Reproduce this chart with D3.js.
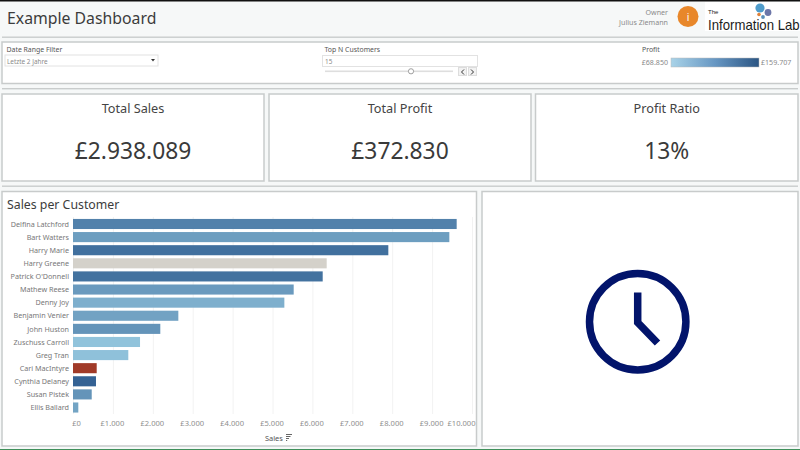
<!DOCTYPE html>
<html lang="en">
<head>
<meta charset="utf-8">
<script src="https://d3js.org/d3.v7.min.js" charset="utf-8"></script>
<style type="text/css">
    html, body { margin: 0; padding: 0; background: #f6f8f8; overflow: hidden; }
    text { font-family: "Noto Sans", "Open Sans", sans-serif; }
    .axis text { fill: #8f8f8f; font-size: 7.6px; }
    .axis path { display: none; }
    .axis line { stroke: #f2f2f2; }
    .name { fill: #777; font-size: 7.2px; text-anchor: end; }
    .small { fill: #555; font-size: 6.9px; }
    .grey { fill: #8a8a8a; font-size: 7.1px; }
    .kpiTitle { fill: #444; font-size: 12.7px; text-anchor: middle; }
    .kpiValue { fill: #3a3a3a; font-size: 22.8px; text-anchor: middle; }
</style>
</head>
<body>
<svg id="chart" width="800" height="450"></svg>
<script type="text/javascript">
    var customers = ["Delfina Latchford", "Bart Watters", "Harry Marie", "Harry Greene", "Patrick O'Donnell",
        "Mathew Reese", "Denny Joy", "Benjamin Venier", "John Huston", "Zuschuss Carroll", "Greg Tran",
        "Cari MacIntyre", "Cynthia Delaney", "Susan Pistek", "Ellis Ballard"];
    var sales = [9616, 9432, 7903, 6358, 6258, 5531, 5297, 2640, 2188, 1680, 1386, 594, 576, 469, 133];
    var profit = [1000, 640, 1220, 0, 1200, 680, 420, 580, 760, 170, 190, -800, 1400, 760, 560];
    var salesTicks = [0, 1000, 2000, 3000, 4000, 5000, 6000, 7000, 8000, 9000, 10000];
    var kpiTitles = ["Total Sales", "Total Profit", "Profit Ratio"];
    var kpiValues = ["£2.938.089", "£372.830", "13%"];
    var legendLabels = ["£68.850", "£159.707"];

    var svg = d3.select("#chart");
    var euro = d3.formatLocale({ decimal: ",", thousands: ".", grouping: [3], currency: ["£", ""] });
    var money = euro.format("$,.0f");

    function box(x, y, w, h) {
        svg.append("rect").attr("x", x).attr("y", y).attr("width", w).attr("height", h)
            .attr("fill", "#ffffff").attr("stroke", "#c8cbcb").attr("stroke-width", 1.5);
    }
    function rule(y) {
        svg.append("rect").attr("x", 2).attr("y", y).attr("width", 796).attr("height", 1.4).attr("fill", "#c9cccc");
    }

    // header
    svg.append("rect").attr("width", 800).attr("height", 1.5).attr("fill", "#111");
    svg.append("rect").attr("y", 449).attr("width", 800).attr("height", 1).attr("fill", "#3f8f5a");
    svg.append("text").attr("x", 7).attr("y", 23.5).attr("fill", "#3c3c3c").style("font-size", "15.8px").text("Example Dashboard");
    rule(36.5);
    rule(88);
    rule(185.5);

    svg.append("text").attr("class", "grey").attr("x", 668).attr("y", 15).attr("text-anchor", "end").text("Owner");
    svg.append("text").attr("class", "grey").attr("x", 668).attr("y", 25).attr("text-anchor", "end").text("Julius Ziemann");
    svg.append("circle").attr("cx", 688).attr("cy", 16.5).attr("r", 10.5).attr("fill", "#e8872a");
    svg.append("text").attr("x", 688).attr("y", 20.5).attr("text-anchor", "middle").attr("fill", "#fff")
        .style("font-size", "10.5px").text("i");

    // logo
    svg.append("rect").attr("x", 705).attr("y", 2).attr("width", 95).attr("height", 29).attr("fill", "#fff");
    svg.append("text").attr("x", 708).attr("y", 13.5).attr("fill", "#222").style("font-size", "6px")
        .style("font-family", "'Liberation Sans'").text("The");
    svg.append("text").attr("transform", "translate(708,29.5) scale(1,1.15)").attr("fill", "#1c1c1c")
        .style("font-size", "13.2px").style("font-family", "'Liberation Sans'").text("Information Lab");
    svg.append("circle").attr("cx", 760).attr("cy", 8).attr("r", 4.6).attr("fill", "#4f9ccb");
    svg.append("circle").attr("cx", 768).attr("cy", 12.5).attr("r", 3.4).attr("fill", "#6c76a8");
    svg.append("circle").attr("cx", 759).attr("cy", 14.5).attr("r", 1.8).attr("fill", "#e0823a");
    svg.append("circle").attr("cx", 763).attr("cy", 17).attr("r", 1.9).attr("fill", "#5b8fb8");

    // filter strip
    box(2, 42, 796, 41.5);
    svg.append("text").attr("class", "small").attr("x", 6.5).attr("y", 52).text("Date Range Filter");
    svg.append("rect").attr("x", 5).attr("y", 55).attr("width", 153).attr("height", 11)
        .attr("fill", "#fff").attr("stroke", "#e2e2e2");
    svg.append("text").attr("class", "grey").attr("x", 7).attr("y", 63.5).style("font-size", "6.4px").text("Letzte 2 Jahre");
    svg.append("path").attr("d", "M151 59h4l-2 2.6z").attr("fill", "#333");

    svg.append("text").attr("class", "small").attr("x", 324.5).attr("y", 52).text("Top N Customers");
    svg.append("rect").attr("x", 322.5).attr("y", 55.5).attr("width", 155).attr("height", 11)
        .attr("fill", "#fff").attr("stroke", "#e2e2e2");
    svg.append("text").attr("class", "grey").attr("x", 325).attr("y", 63.5).style("font-size", "6.4px").text("15");
    svg.append("rect").attr("x", 325).attr("y", 70.5).attr("width", 128).attr("height", 1.6).attr("fill", "#dedede");
    svg.append("circle").attr("cx", 411).attr("cy", 71.3).attr("r", 2.6).attr("fill", "#fff").attr("stroke", "#888").attr("stroke-width", 0.8);
    [[458.5, "M464 69.5l-2.5 2.5 2.5 2.5"], [468.5, "M471 69.5l2.5 2.5-2.5 2.5"]].forEach(function (b) {
        svg.append("rect").attr("x", b[0]).attr("y", 67.5).attr("width", 8).attr("height", 8)
            .attr("fill", "#f2f2f2").attr("stroke", "#ddd");
        svg.append("path").attr("d", b[1]).attr("fill", "none").attr("stroke", "#333").attr("stroke-width", 1);
    });

    // profit legend
    var grad = svg.append("defs").append("linearGradient").attr("id", "legendGrad");
    grad.append("stop").attr("offset", "0%").attr("stop-color", "#a9d3e8");
    grad.append("stop").attr("offset", "50%").attr("stop-color", "#6797c3");
    grad.append("stop").attr("offset", "100%").attr("stop-color", "#2b5583");
    svg.append("text").attr("class", "small").attr("x", 642).attr("y", 52).text("Profit");
    svg.append("rect").attr("x", 671).attr("y", 58).attr("width", 88).attr("height", 9)
        .attr("fill", "url(#legendGrad)").attr("stroke", "#bbb").attr("stroke-width", 0.5);
    svg.append("text").attr("class", "grey").attr("x", 668).attr("y", 65).attr("text-anchor", "end").text(legendLabels[0]);
    svg.append("text").attr("class", "grey").attr("x", 761).attr("y", 65).text(legendLabels[1]);

    // KPI cards
    var cardX = [2, 269, 535.5];
    var cardW = [262, 262, 262.5];
    kpiTitles.forEach(function (title, i) {
        box(cardX[i], 94, cardW[i], 87);
        svg.append("text").attr("class", "kpiTitle").attr("x", cardX[i] + cardW[i] / 2).attr("y", 112.5).text(title);
        svg.append("text").attr("class", "kpiValue").attr("x", cardX[i] + cardW[i] / 2).attr("y", 159).text(kpiValues[i]);
    });

    // bar chart
    box(2, 191.5, 474.5, 254.5);
    box(482, 191.5, 316, 254.5);
    svg.append("text").attr("x", 7).attr("y", 209).attr("fill", "#3c3c3c").style("font-size", "12.3px").text("Sales per Customer");

    var x = d3.scaleLinear().domain([0, 10000]).range([73, 472]);
    var y = d3.scaleBand().domain(customers).range([217.5, 414]).paddingInner(0.23).paddingOuter(0.11);
    var color = d3.scaleLinear()
        .domain([-800, 0, 50, 1500])
        .range(["#a03a28", "#d4d1ca", "#9accE2", "#2c5a8e"]);

    svg.append("g").attr("class", "axis")
        .attr("transform", "translate(0,414)")
        .call(d3.axisBottom(x).tickValues(salesTicks).tickFormat(money).tickSize(-197).tickPadding(7))
        .selectAll("text")
        .attr("dx", function (d) { return d === 0 ? 3 : d === 10000 ? -11 : -1; });

    svg.selectAll(".bar").data(customers).enter().append("rect")
        .attr("class", "bar")
        .attr("x", x(0))
        .attr("y", function (d) { return y(d); })
        .attr("width", function (d, i) { return x(sales[i]) - x(0); })
        .attr("height", y.bandwidth())
        .attr("fill", function (d, i) { return color(profit[i]); });

    svg.selectAll(".name").data(customers).enter().append("text")
        .attr("class", "name")
        .attr("x", 69)
        .attr("y", function (d) { return y(d) + y.bandwidth() / 2 + 2.7; })
        .text(function (d) { return d; });

    svg.append("text").attr("x", 265).attr("y", 441).attr("fill", "#555").style("font-size", "7.4px").text("Sales");
    svg.append("path").attr("d", "M286 434.5h6M286 436.5h4.5M286 438.5h3M286 440.5h1.2")
        .attr("stroke", "#555").attr("stroke-width", 0.9);

    // clock
    var clock = svg.append("g").attr("fill", "none").attr("stroke", "#02146b");
    clock.append("circle").attr("cx", 637.7).attr("cy", 321.7).attr("r", 48.2).attr("stroke-width", 7.5);
    clock.append("path").attr("d", "M637.7 292.5V322.5L657.5 343").attr("stroke-width", 7.5);
</script>
</body>
</html>
